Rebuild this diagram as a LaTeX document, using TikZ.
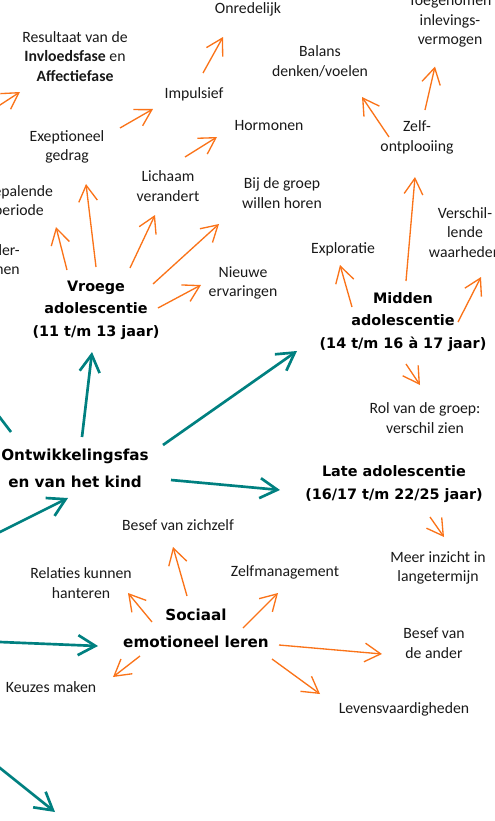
\documentclass[tikz,border=0pt]{standalone}
\usepackage{fontspec}
\setmainfont{Carlito}
\newfontfamily\headfont{DejaVu Sans}
\usetikzlibrary{arrows.meta}
\definecolor{oarr}{RGB}{250,115,25}
\definecolor{tarr}{RGB}{0,128,128}
\definecolor{txt}{RGB}{25,25,25}
\begin{document}
\begin{tikzpicture}[x=0.75pt,y=-0.75pt,
  lbl/.style={align=center,inner sep=0pt,text=txt,font=\fontsize{11.8}{14.6}\selectfont},
  head/.style={align=center,inner sep=0pt,text=black,font=\headfont\bfseries\fontsize{10.8}{17}\selectfont},
  bighead/.style={head,font=\headfont\bfseries\fontsize{11.4}{20}\selectfont},
  oa/.style={draw=oarr,line width=1pt,-{Straight Barb[length=12pt,width=14pt]}},
  ta/.style={draw=tarr,line width=2pt,-{Straight Barb[length=13pt,width=15pt]}},
  tl/.style={draw=tarr,line width=2pt},
]
\useasboundingbox (0,0) rectangle (494,821);
\clip (0,0) rectangle (494,821);

% plain labels
\node[lbl] (onred) at (248,9) {Onredelijk};
\node[lbl] (result) at (75,56.5) {Resultaat van de\\\textbf{Invloedsfase} en\\\textbf{Affectiefase}};
\node[lbl] (impuls) at (194,94) {Impulsief};
\node[lbl] (exep) at (67,147) {Exeptioneel\\gedrag};
\node[lbl] (hormon) at (269,126) {Hormonen};
\node[lbl] (lichaam) at (168,186) {Lichaam\\verandert};
\node[lbl] (balans) at (320,61.5) {Balans\\denken/voelen};
\node[lbl] (toeg) at (450,21.5) {Toegenomen\\inlevings-\\vermogen};
\node[lbl] (zelf) at (417,137.5) {Zelf-\\ontplooiing};
\node[lbl] (bij) at (282,193) {Bij de groep\\willen horen};
\node[lbl] (explor) at (343,249) {Exploratie};
\node[lbl] (verschil) at (465,232.5) {Verschil-\\lende\\waarheden};
\node[lbl] (rol) at (425,418) {Rol van de groep:\\verschil zien};
\node[lbl] (nieuwe) at (243,283) {Nieuwe\\ervaringen};
\node[lbl] (bepal) at (19,202) {Bepalende\\periode};
\node[lbl,align=right,anchor=east] (onder) at (20,259.5) {der-\\hen};
\node[lbl] (meer) at (438,568) {Meer inzicht in\\langetermijn};
\node[lbl] (besefz) at (178,525) {Besef van zichzelf};
\node[lbl] (relaties) at (81,583) {Relaties kunnen\\hanteren};
\node[lbl] (zelfm) at (285,572) {Zelfmanagement};
\node[lbl] (keuzes) at (51,687) {Keuzes maken};
\node[lbl] (besefa) at (434,643) {Besef van\\de ander};
\node[lbl] (levens) at (404,709) {Levensvaardigheden};

% headings
\node[head] (vroege) at (96,310) {Vroege\\adolescentie\\(11 t/m 13 jaar)};
\node[head] (midden) at (403,322) {Midden\\adolescentie\\(14 t/m 16 à 17 jaar)};
\node[head] (late) at (394,484) {Late adolescentie\\(16/17 t/m 22/25 jaar)};
\node[bighead] (ontw) at (75,468.5) {Ontwikkelingsfas\\en van het kind};
\node[bighead] (sociaal) at (196,628.5) {Sociaal\\emotioneel leren};

% free ends outside the frame
\coordinate (offA) at (-10,111.5);
\coordinate (offB) at (-15,398);
\coordinate (offC) at (-20,542);
\coordinate (offD) at (-10,641.6);
\coordinate (offE) at (-10,760);
\coordinate (offF) at (55,812);

% orange connectors
\draw[oa] (offA) -- ([shift={(-55,35.5)}]result.center);
\draw[oa] ([shift={(9,-21)}]impuls.center) -- ([shift={(-25,28)}]onred.center);
\draw[oa] ([shift={(53,-19)}]exep.center) -- ([shift={(-41,15)}]impuls.center);
\draw[oa] ([shift={(17,-29)}]lichaam.center) -- ([shift={(-52,11)}]hormon.center);
\draw[oa] ([shift={(8,-27.5)}]zelf.center) -- ([shift={(-15,45)}]toeg.center);
\draw[oa] ([shift={(-28,-0.5)}]zelf.center) -- ([shift={(42,35.5)}]balans.center);
\draw[oa] ([shift={(3,-41)}]midden.center) -- ([shift={(-2,39.5)}]zelf.center);
\draw[oa] ([shift={(-51,-15)}]midden.center) -- ([shift={(-3,16)}]explor.center);
\draw[oa] ([shift={(55,0)}]midden.center) -- ([shift={(16,44.5)}]verschil.center);
\draw[oa] ([shift={(3,42)}]midden.center) -- ([shift={(-5,-33)}]rol.center);
\draw[oa] ([shift={(36,33)}]late.center) -- ([shift={(6,-31)}]meer.center);
\draw[oa] ([shift={(-29,-40)}]vroege.center) -- ([shift={(37,25)}]bepal.center);
\draw[oa] ([shift={(0,-43)}]vroege.center) -- ([shift={(19,37)}]exep.center);
\draw[oa] ([shift={(34,-42)}]vroege.center) -- ([shift={(-13,29)}]lichaam.center);
\draw[oa] ([shift={(57,-26)}]vroege.center) -- ([shift={(-63,31)}]bij.center);
\draw[oa] ([shift={(62,-2)}]vroege.center) -- ([shift={(-42,2)}]nieuwe.center);
\draw[oa] ([shift={(-9,-32.5)}]sociaal.center) -- ([shift={(-5,22)}]besefz.center);
\draw[oa] ([shift={(-44,-6.5)}]sociaal.center) -- ([shift={(47,10)}]relaties.center);
\draw[oa] ([shift={(-56,27.5)}]sociaal.center) -- ([shift={(62,-10)}]keuzes.center);
\draw[oa] ([shift={(47,-0.5)}]sociaal.center) -- ([shift={(-7,21)}]zelfm.center);
\draw[oa] ([shift={(83,16.5)}]sociaal.center) -- ([shift={(-52,11)}]besefa.center);
\draw[oa] ([shift={(76,30.5)}]sociaal.center) -- ([shift={(-84,-15)}]levens.center);

% teal connectors
\draw[ta] ([shift={(7,-31.5)}]ontw.center) -- ([shift={(-4,42)}]vroege.center);
\draw[ta] ([shift={(88,-23.5)}]ontw.center) -- ([shift={(-106,29)}]midden.center);
\draw[ta] ([shift={(96,11.5)}]ontw.center) -- ([shift={(-114,6)}]late.center);
\draw[tl] ([shift={(-64,-36.5)}]ontw.center) -- (offB);
\draw[ta] (offC) -- ([shift={(-7,29.5)}]ontw.center);
\draw[ta] (offD) -- ([shift={(-98,17.5)}]sociaal.center);
\draw[ta] (offE) -- (offF);
\end{tikzpicture}
\end{document}
